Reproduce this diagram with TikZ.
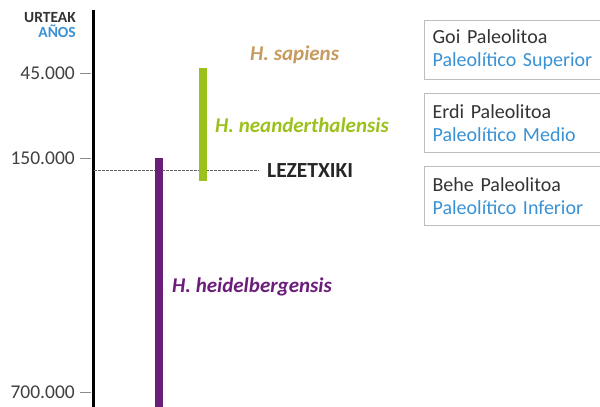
\documentclass[tikz,border=0pt]{standalone}
\usepackage{fontspec}
\setmainfont{Carlito}
\usetikzlibrary{positioning}

\definecolor{anosblue}{HTML}{3A92D4}
\definecolor{sapienscol}{HTML}{C79A5E}
\definecolor{neandcol}{HTML}{9BC11C}
\definecolor{heidcol}{HTML}{6B1D7A}
\definecolor{boxline}{HTML}{BDBDBD}

\tikzset{
  period/.style={draw=boxline, line width=1.2pt, anchor=north west,
    minimum width=175pt, minimum height=59pt, text width=160pt,
    inner xsep=8pt, align=left, text=black!80,
    font=\fontsize{20}{23}\selectfont},
  species/.style={anchor=west, inner sep=0pt,
    font=\fontsize{21}{24}\selectfont\bfseries\itshape},
  agebar/.style={line width=8pt},
  agelabel/.style={anchor=east, inner sep=0pt, text=black!75,
    font=\fontsize{19.5}{23}\selectfont},
  agetick/.style={draw=black!45, line width=1pt}
}

\begin{document}
\begin{tikzpicture}[x=1pt,y=-1pt]
  \useasboundingbox (0,0) rectangle (600,407);

  \coordinate (axtop) at (93.5,10);
  \coordinate (axbot) at (93.5,407);
  \draw[line width=2.5pt] (axtop) -- (axbot);

  \node [anchor=east, inner sep=0pt, text=black!80, font=\fontsize{15.5}{17}\selectfont\bfseries] (urteak) at (76,18) {URTEAK};
  \node [anchor=east, inner sep=0pt, text=anosblue, font=\fontsize{15.5}{17}\selectfont\bfseries] (anos) at (76,31) {AÑOS};

  \node [agelabel] (a45) at (75,73) {45.000};
  \node [agelabel] (a150) at (75,158) {150.000};
  \node [agelabel] (a700) at (75,392) {700.000};
  \draw [agetick] (80,73) -- (91,73);
  \draw [agetick] (80,158) -- (91,158);
  \draw [agetick] (80,392) -- (91,392);

  \node [anchor=west, inner sep=0pt, text=black!85, font=\fontsize{21.5}{24}\selectfont\bfseries] (lez) at (267,171) {LEZETXIKI};
  \coordinate (lezax) at (93.5,170);
  \draw [black!60, line width=0.7pt, dash pattern=on 3pt off 1pt] (lezax) -- ([xshift=-9pt]lez.west |- lezax);

  \coordinate (heidtop) at (159,158);
  \coordinate (heidbot) at (159,407);
  \draw [agebar, heidcol] (heidtop) -- (heidbot);
  \coordinate (neandtop) at (202.5,68);
  \coordinate (neandbot) at (202.5,181);
  \draw [agebar, neandcol] (neandtop) -- (neandbot);

  \node [species, text=sapienscol] (sapiens) at (250,55) {H. sapiens};
  \node [species, text=neandcol] (neand) at (215,125) {H. neanderthalensis};
  \node [species, text=heidcol] (heid) at (172,287) {H. heidelbergensis};

  \node [period] (goi) at (424,20) {Goi Paleolitoa\\\textcolor{anosblue}{Paleolítico Superior}};
  \node [period] (erdi) at (424,93) {Erdi Paleolitoa\\\textcolor{anosblue}{Paleolítico Medio}};
  \node [period] (behe) at (424,166) {Behe Paleolitoa\\\textcolor{anosblue}{Paleolítico Inferior}};
\end{tikzpicture}
\end{document}
